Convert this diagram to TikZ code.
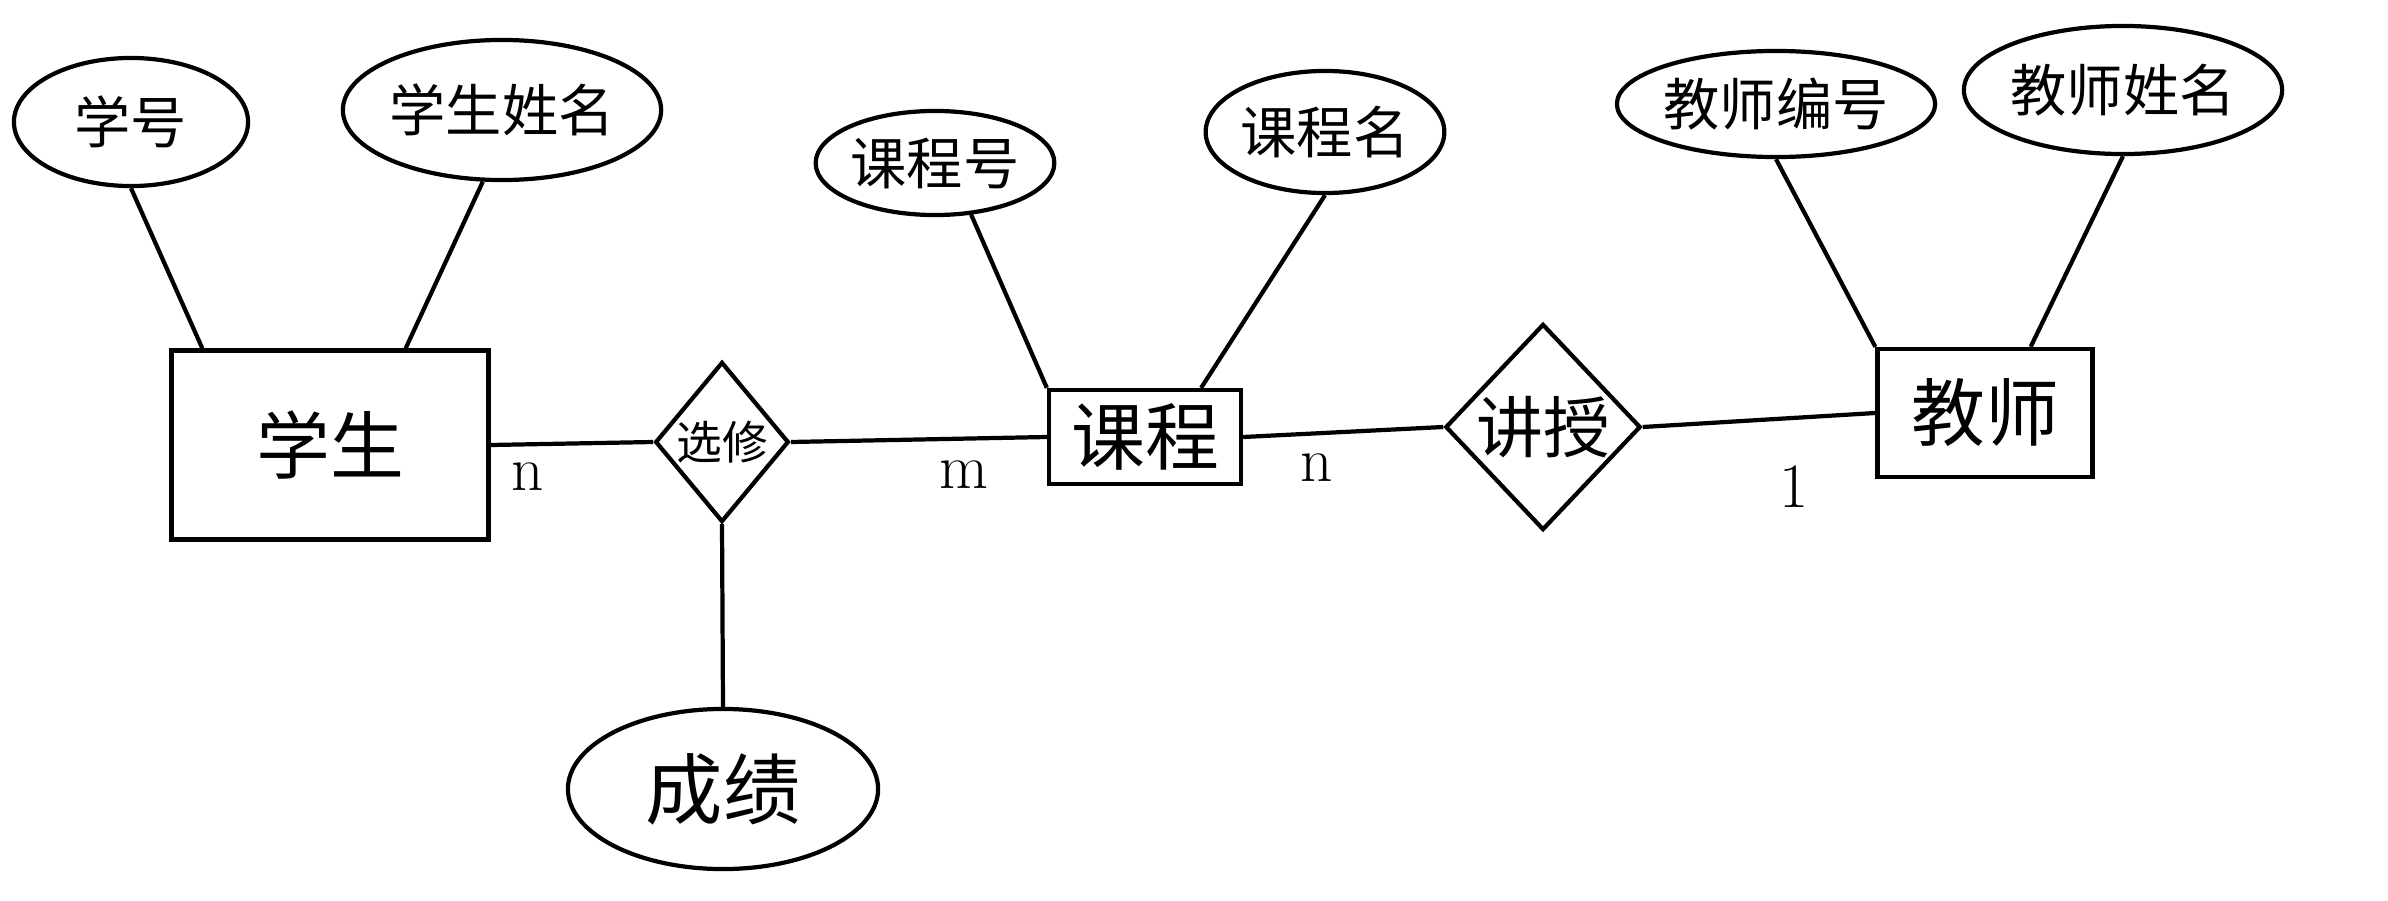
\documentclass[tikz,border=0pt]{standalone}
\usepackage{fontspec}
\usepackage{tikz}
\usetikzlibrary{shapes.geometric}
\newfontfamily\cjk{Noto Sans CJK SC}

\begin{document}
\begin{tikzpicture}[x=0.01cm,y=-0.01cm,line width=1.2pt,
  entity/.style={draw,rectangle,inner sep=0pt,font=\cjk\fontsize{21}{24}\selectfont},
  attr/.style={draw,ellipse,inner sep=0pt,font=\cjk\fontsize{16}{19}\selectfont},
  relation/.style={draw,diamond,inner sep=0pt,font=\cjk\fontsize{13}{16}\selectfont},
  card/.style={font=\fontsize{18}{20}\selectfont}]
  \useasboundingbox (0,0) rectangle (2388,900);
  \node[entity,minimum width=3.17cm,minimum height=1.89cm] (student) at (330,445) {学生};
  \node[entity,minimum width=1.92cm,minimum height=0.94cm] (course) at (1145,437) {课程};
  \node[entity,minimum width=2.15cm,minimum height=1.28cm] (teacher) at (1985,413) {教师};
  \node[attr,minimum width=2.34cm,minimum height=1.28cm] (sno) at (131,122) {学号};
  \node[attr,minimum width=2.54cm,minimum height=1.40cm] (sname) at (502,110) {学生姓名};
  \node[attr,minimum width=2.32cm,minimum height=1.04cm] (cno) at (935,163) {课程号};
  \node[attr,minimum width=2.24cm,minimum height=1.22cm] (cname) at (1325,132) {课程名};
  \node[attr,minimum width=3.08cm,minimum height=1.06cm] (tno) at (1776,104) {教师编号};
  \node[attr,minimum width=2.72cm,minimum height=1.28cm] (tname) at (2123,90) {教师姓名};
  \node[attr,minimum width=3.10cm,minimum height=1.60cm,font=\cjk\fontsize{22}{26}\selectfont] (grade) at (723,789) {成绩};
  \node[relation,minimum width=1.28cm,minimum height=1.60cm] (elect) at (722,442) {选修};
  \node[relation,minimum width=1.82cm,minimum height=2.06cm,font=\cjk\fontsize{19}{22}\selectfont] (teach) at (1543,427) {讲授};
  \draw (sno.south) -- ([xshift=0.33cm]student.north west);
  \draw (sname.-105) -- ([xshift=-0.85cm]student.north east);
  \draw (cno.-55) -- (course.north west);
  \draw (cname.south) -- ([xshift=-0.42cm]course.north east);
  \draw (tno.south) -- (teacher.north west);
  \draw (tname.south) -- ([xshift=-0.64cm]teacher.north east);
  \draw (student.east) -- (elect.west);
  \draw (elect.east) -- (course.west);
  \draw (elect.south) -- (grade.north);
  \draw (course.east) -- (teach.west);
  \draw (teach.east) -- (teacher.west);
  \node[card] (n1) at (528,477) {n};
  \node[card] (m1) at (964,475) {m};
  \node[card] (n2) at (1317,468) {n};
  \node[card] (one) at (1794,487) {1};
\end{tikzpicture}
\end{document}
